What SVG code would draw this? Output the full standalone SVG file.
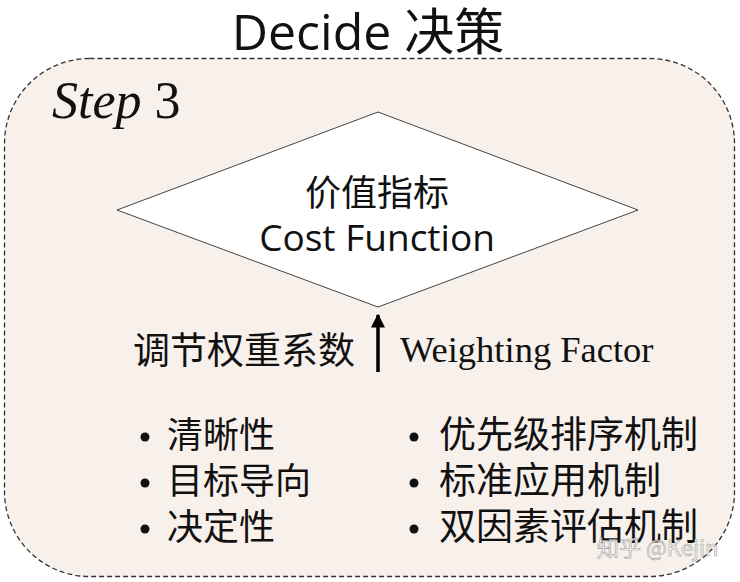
<svg xmlns="http://www.w3.org/2000/svg" width="740" height="582" viewBox="0 0 740 582">
<defs>
<style>
.cjk{font-family:"Noto Sans CJK SC","Noto Sans",sans-serif;fill:#111}
.ser{font-family:"Liberation Serif","Times New Roman",serif;fill:#111}
.sans{font-family:"Open Sans","Noto Sans CJK SC",sans-serif;fill:#111}
</style>
<marker id="ah" viewBox="0 0 10 10" refX="9" refY="5" markerWidth="4" markerHeight="4" orient="auto"><path d="M0,0 L10,5 L0,10 z" fill="#000"/></marker>
</defs>
<rect width="740" height="582" fill="#fff"/>
<text class="sans" x="368" y="50" font-size="50" text-anchor="middle">Decide 决策</text>
<g id="frame">
<rect x="4.5" y="58.5" width="730" height="518" rx="85" ry="85" fill="#f7f0eb" stroke="#333" stroke-width="1.3" stroke-dasharray="5,3"/>
<text class="ser" x="52" y="118" font-size="52"><tspan font-style="italic">Step</tspan> 3</text>
</g>
<g id="cost">
<polygon points="378,112 638,210 378,307 117,210" fill="#fff" stroke="#444" stroke-width="1"/>
<text class="cjk" x="377" y="206" font-size="36" text-anchor="middle">价值指标</text>
<text class="sans" x="377" y="251" font-size="37" text-anchor="middle">Cost Function</text>
</g>
<g id="connectors">
<line x1="378" y1="372" x2="378" y2="315" stroke="#000" stroke-width="3.5" marker-end="url(#ah)"/>
</g>
<g id="weight">
<text class="cjk" x="355" y="364" font-size="37" text-anchor="end">调节权重系数</text>
<text class="ser" x="400" y="362" font-size="36.5">Weighting Factor</text>
</g>
<g id="left-list">
<circle cx="145" cy="437" r="4.5" fill="#111"/><text class="cjk" x="167" y="448" font-size="36">清晰性</text>
<circle cx="145" cy="483" r="4.5" fill="#111"/><text class="cjk" x="167" y="494" font-size="36">目标导向</text>
<circle cx="145" cy="529" r="4.5" fill="#111"/><text class="cjk" x="167" y="540" font-size="36">决定性</text>
</g>
<g id="right-list">
<circle cx="414" cy="437" r="4.5" fill="#111"/><text class="cjk" x="439" y="448" font-size="37">优先级排序机制</text>
<circle cx="414" cy="483" r="4.5" fill="#111"/><text class="cjk" x="439" y="494" font-size="37">标准应用机制</text>
<circle cx="414" cy="529" r="4.5" fill="#111"/><text class="cjk" x="439" y="540" font-size="37">双因素评估机制</text>
</g>
<text x="597" y="556" font-family="'Noto Sans CJK SC',sans-serif" font-size="22" fill="#fff" fill-opacity="0.8" stroke="#999" stroke-width="0.6">知乎 @Kejin</text>
</svg>
